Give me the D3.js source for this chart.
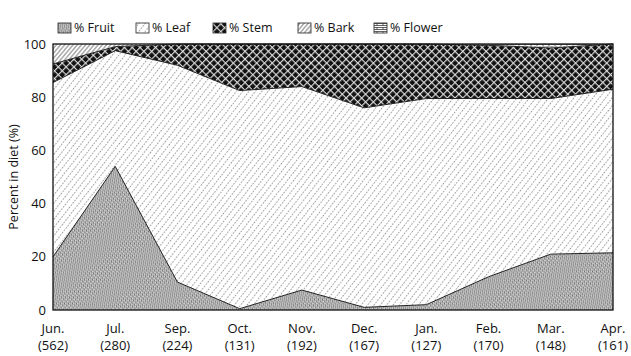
<!DOCTYPE html>
<meta charset="utf-8">
<style>
  body { margin: 0; background: #fff; }
  text { font-family: "Open Sans", "Noto Sans", sans-serif; fill: #111; }
</style>
<svg width="631" height="356"></svg>
<script src="https://d3js.org/d3.v7.min.js"></script>
<script>
// months and sample sizes
var months = ["Jun.", "Jul.", "Sep.", "Oct.", "Nov.", "Dec.", "Jan.", "Feb.", "Mar.", "Apr."]
var counts = ["(562)", "(280)", "(224)", "(131)", "(192)", "(167)", "(127)", "(170)", "(148)", "(161)"]

// percent in diet
var fruit  = [20, 54, 10.5, 0.5, 7.5, 1, 2, 12.5, 21, 21.5]
var leaf   = [65.5, 43.5, 81.5, 82, 76.5, 75, 77.5, 67, 58.5, 61.5]
var stem   = [7, 1.5, 8, 17.5, 16, 24, 20.5, 20, 19, 17]
var bark   = [7.5, 1, 0, 0, 0, 0, 0, 0.2, 0.6, 0]
var flower = [0, 0, 0, 0, 0, 0, 0, 0.3, 0.9, 0]

var seriesKeys = ["fruit", "leaf", "stem", "bark", "flower"]
var seriesNames = ["% Fruit", "% Leaf", "% Stem", "% Bark", "% Flower"]
var yTicks = [0, 20, 40, 60, 80, 100]

var rows = months.map(function (m, i) {
  return { month: m, fruit: fruit[i], leaf: leaf[i], stem: stem[i], bark: bark[i], flower: flower[i] }
})

var svg = d3.select('svg')
var margin = { left: 53, right: 18, top: 44, bottom: 46 }
var width = 631, height = 356

var x = d3.scalePoint().domain(months).range([margin.left, width - margin.right])
var y = d3.scaleLinear().domain([0, 100]).range([height - margin.bottom, margin.top])

// fill patterns
var defs = svg.append('defs')

var pFruit = defs.append('pattern').attr('id', 'p-fruit')
  .attr('patternUnits', 'userSpaceOnUse').attr('width', 3).attr('height', 2.6)
  .attr('patternTransform', 'rotate(40)')
pFruit.append('rect').attr('width', 3).attr('height', 2.6).attr('fill', '#d6d6d6')
pFruit.append('path').attr('d', 'M0,1.3 L0.75,0.5 L1.5,1.3 L2.25,2.1 L3,1.3')
  .attr('fill', 'none').attr('stroke', '#333').attr('stroke-width', 0.8)

var pLeaf = defs.append('pattern').attr('id', 'p-leaf')
  .attr('patternUnits', 'userSpaceOnUse').attr('width', 5).attr('height', 6)
  .attr('patternTransform', 'rotate(38)')
pLeaf.append('rect').attr('width', 5).attr('height', 6).attr('fill', '#fff')
pLeaf.append('line').attr('x1', 2.5).attr('x2', 2.5).attr('y1', 0).attr('y2', 6)
  .attr('stroke', '#6a6a6a').attr('stroke-width', 0.7).attr('stroke-dasharray', '1.6,1.4')

var pStem = defs.append('pattern').attr('id', 'p-stem')
  .attr('patternUnits', 'userSpaceOnUse').attr('width', 5.5).attr('height', 5.5)
  .attr('patternTransform', 'rotate(45)')
pStem.append('rect').attr('width', 5.5).attr('height', 5.5).attr('fill', '#111')
pStem.append('line').attr('x1', 0).attr('x2', 5.5).attr('y1', 0.6).attr('y2', 0.6)
  .attr('stroke', '#e6e6e6').attr('stroke-width', 1.1)
pStem.append('line').attr('x1', 0.6).attr('x2', 0.6).attr('y1', 0).attr('y2', 5.5)
  .attr('stroke', '#e6e6e6').attr('stroke-width', 1.1)

var pBark = defs.append('pattern').attr('id', 'p-bark')
  .attr('patternUnits', 'userSpaceOnUse').attr('width', 3.2).attr('height', 4)
  .attr('patternTransform', 'rotate(40)')
pBark.append('rect').attr('width', 3.2).attr('height', 4).attr('fill', '#fff')
pBark.append('line').attr('x1', 1.6).attr('x2', 1.6).attr('y1', 0).attr('y2', 4)
  .attr('stroke', '#333').attr('stroke-width', 0.7)

var pFlower = defs.append('pattern').attr('id', 'p-flower')
  .attr('patternUnits', 'userSpaceOnUse').attr('width', 6).attr('height', 4)
pFlower.append('rect').attr('width', 6).attr('height', 4).attr('fill', '#fff')
pFlower.append('path').attr('d', 'M0,0.5 H6 M0,2.5 H6 M3,0.5 V2.5')
  .attr('stroke', '#222').attr('stroke-width', 0.7)

var fills = { fruit: 'url(#p-fruit)', leaf: 'url(#p-leaf)', stem: 'url(#p-stem)', bark: 'url(#p-bark)', flower: 'url(#p-flower)' }

var stack = d3.stack().keys(seriesKeys)
var layers = stack(rows)

var area = d3.area()
  .x(function (d) { return x(d.data.month) })
  .y0(function (d) { return y(d[0]) })
  .y1(function (d) { return y(d[1]) })

svg.append('g').selectAll('path')
  .data(layers)
  .enter().append('path')
  .attr('d', area)
  .attr('fill', function (d) { return fills[d.key] })

// boundary lines between layers
var topLine = d3.line()
  .x(function (d) { return x(d.data.month) })
  .y(function (d) { return y(d[1]) })

svg.append('g').selectAll('path')
  .data(layers.slice(0, 3))
  .enter().append('path')
  .attr('d', topLine)
  .attr('fill', 'none')
  .attr('stroke', '#222')
  .attr('stroke-width', 1)

// frame
svg.append('rect')
  .attr('x', x.range()[0]).attr('y', y(100))
  .attr('width', x.range()[1] - x.range()[0]).attr('height', y(0) - y(100))
  .attr('fill', 'none').attr('stroke', '#111').attr('stroke-width', 1.3)

// y tick labels
svg.append('g').selectAll('text')
  .data(yTicks)
  .enter().append('text')
  .attr('x', margin.left - 7)
  .attr('y', function (d) { return y(d) })
  .attr('dy', '0.35em')
  .attr('text-anchor', 'end')
  .attr('font-size', 13)
  .text(function (d) { return d })

svg.append('text')
  .attr('transform', 'translate(18,' + ((y(0) + y(100)) / 2) + ') rotate(-90)')
  .attr('text-anchor', 'middle')
  .attr('font-size', 12.5)
  .text('Percent in diet (%)')

// x labels, two lines
var xl = svg.append('g').selectAll('g')
  .data(months)
  .enter().append('g')
  .attr('transform', function (d) { return 'translate(' + x(d) + ',0)' })
xl.append('text').attr('y', 333).attr('text-anchor', 'middle').attr('font-size', 13)
  .text(function (d) { return d })
xl.append('text').attr('y', 350).attr('text-anchor', 'middle').attr('font-size', 13)
  .text(function (d, i) { return counts[i] })

// legend
var legendX = [58, 136, 213, 298, 374]
var lg = svg.append('g').selectAll('g')
  .data(seriesKeys)
  .enter().append('g')
  .attr('transform', function (d, i) { return 'translate(' + legendX[i] + ',23)' })
lg.append('rect').attr('width', 13).attr('height', 10)
  .attr('fill', function (d) { return fills[d] })
  .attr('stroke', '#222').attr('stroke-width', 0.8)
lg.append('text').attr('x', 16).attr('y', 5).attr('dy', '0.35em').attr('font-size', 12.5)
  .text(function (d, i) { return seriesNames[i] })
</script>
